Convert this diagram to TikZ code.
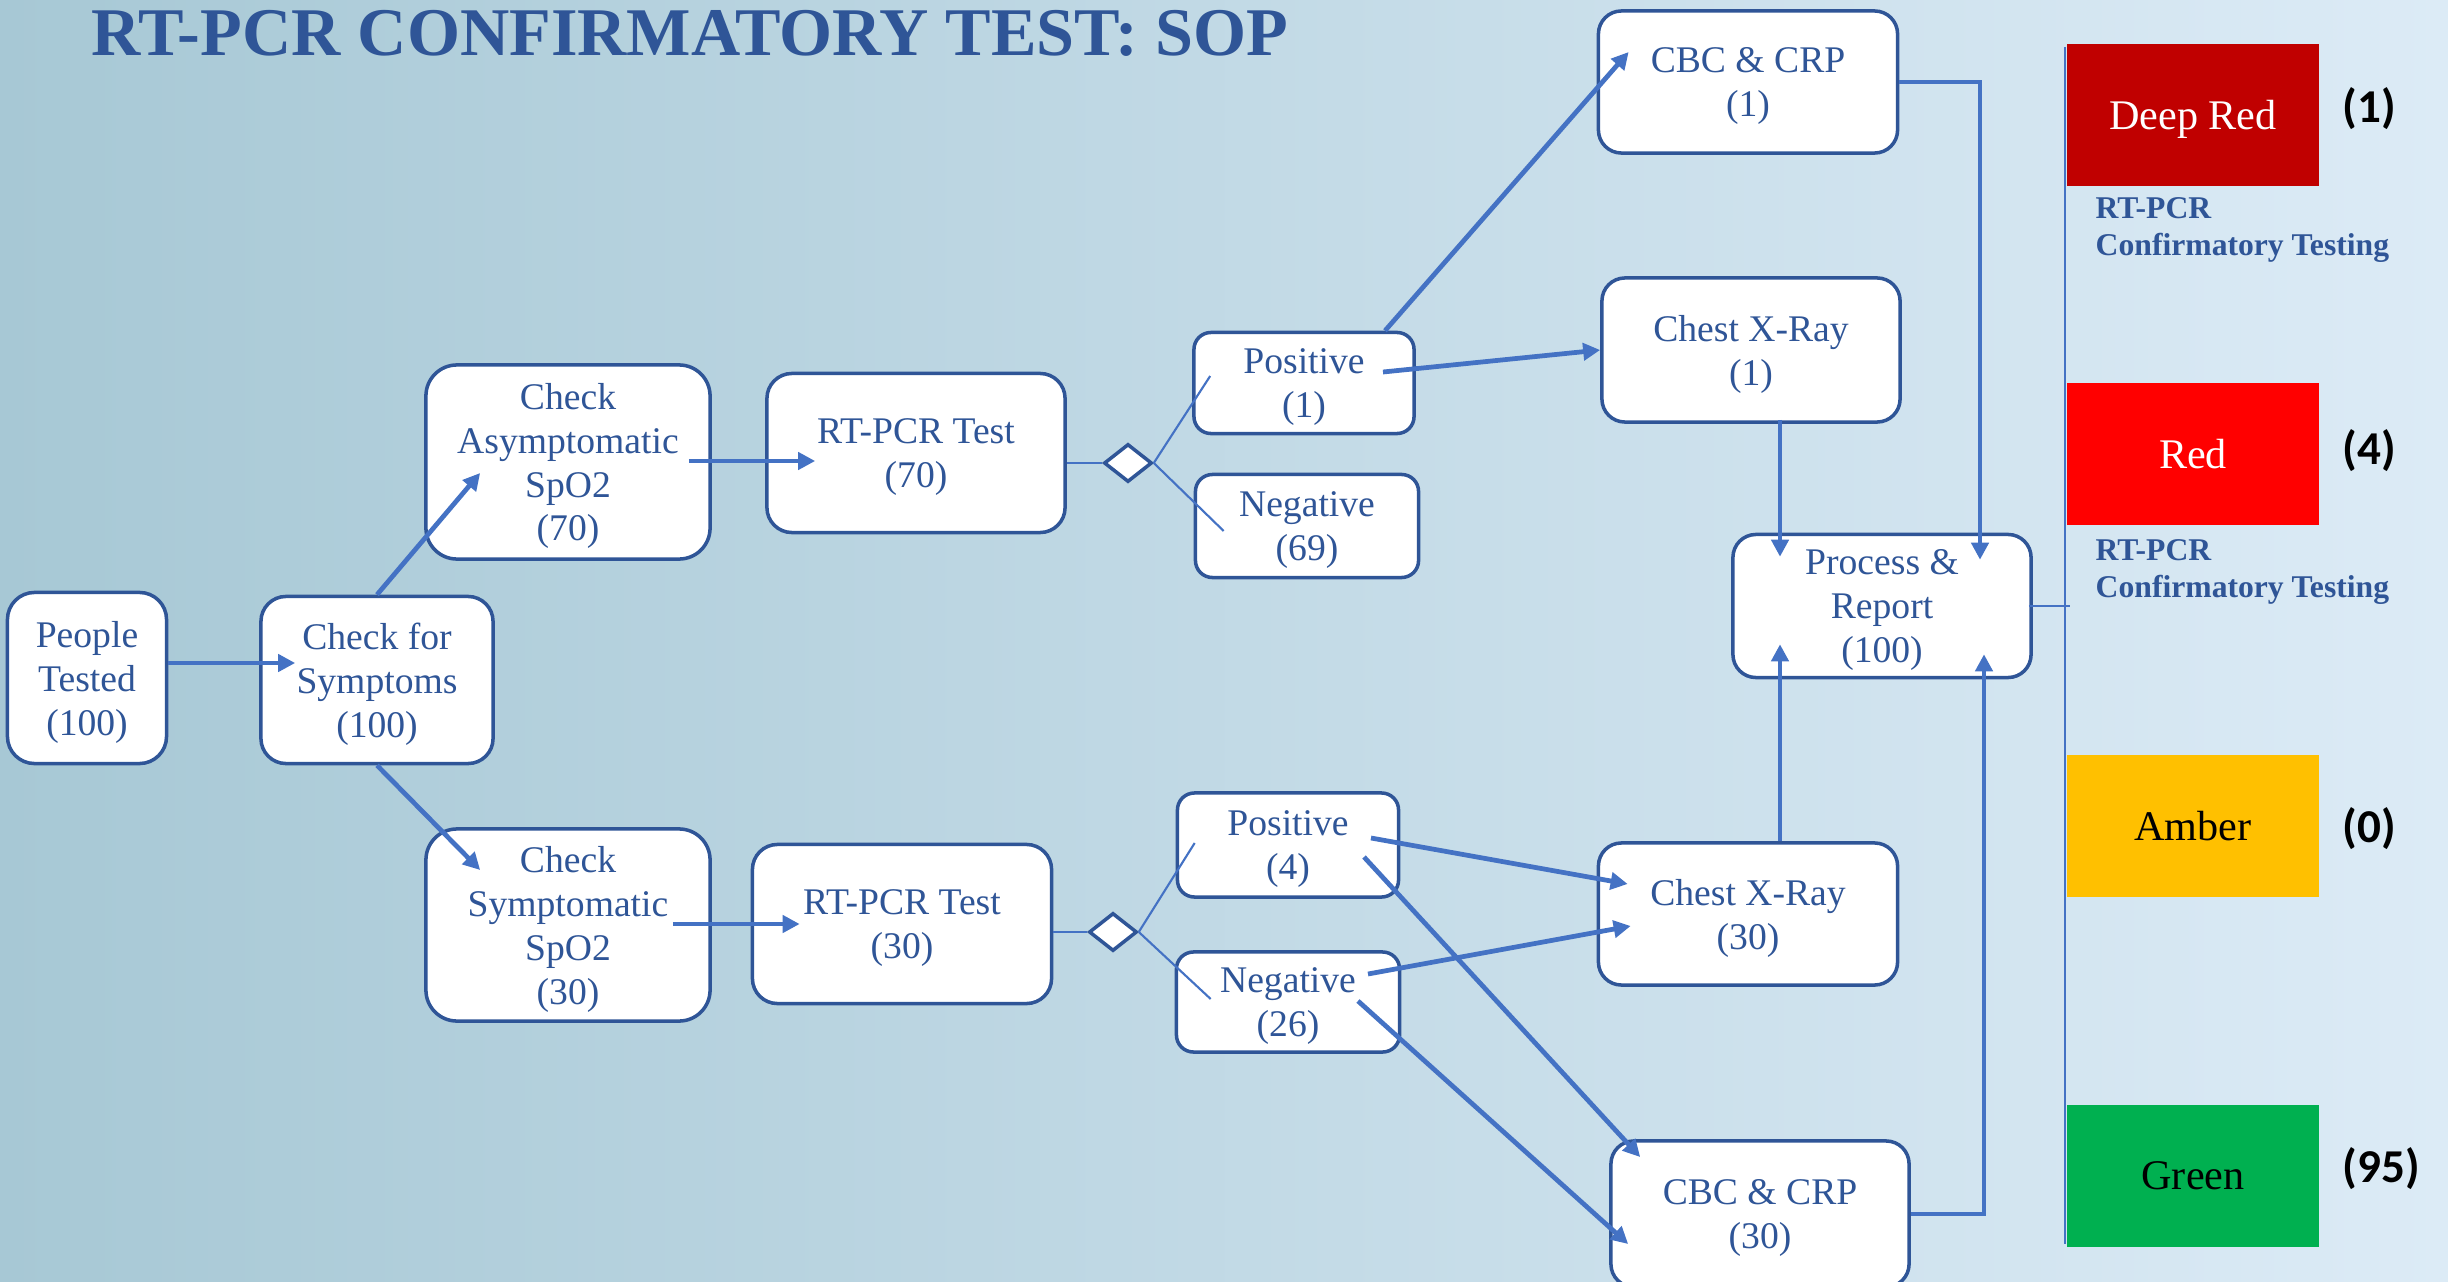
\documentclass[tikz,border=0pt]{standalone}
\usepackage{fontspec}
\setmainfont{Liberation Serif}
\newfontfamily\numfont{Carlito}
\usepackage{tikz}
\usetikzlibrary{arrows.meta,positioning,shapes.geometric,calc}
\definecolor{boxblue}  {RGB}{47,85,151}
\definecolor{lineblue} {RGB}{68,114,196}
\definecolor{bgleft}   {RGB}{167,200,213}
\definecolor{bgright}  {RGB}{220,235,246}
\definecolor{deepred}  {RGB}{192,0,0}
\definecolor{flagred}  {RGB}{255,0,0}
\definecolor{amber}    {RGB}{255,192,0}
\definecolor{flaggreen}{RGB}{0,176,80}
\tikzset{
  stepbox/.style={draw=boxblue, line width=1pt, fill=white,
                  rounded corners=#1, align=center, text=boxblue,
                  inner sep=0pt, text depth=-2.6pt,
                  font=\fontsize{10.7}{12.5}\selectfont},
  stepbox/.default=0.25cm,
  resbox/.style ={stepbox=0.17cm},
  gate/.style   ={diamond, draw=boxblue, line width=1pt, fill=white,
                  inner sep=0pt, minimum width=0.48cm, minimum height=0.38cm},
  flag/.style   ={fill=#1, minimum width=2.51cm, minimum height=1.41cm,
                  inner sep=0pt, text depth=0pt,
                  font=\fontsize{12}{14}\selectfont},
  count/.style  ={anchor=west, inner sep=0pt,
                  font=\numfont\bfseries\fontsize{13.4}{15}\selectfont},
  note/.style   ={anchor=west, align=left, inner sep=0pt, text=boxblue,
                  font=\bfseries\fontsize{9}{10.5}\selectfont},
  arr/.style    ={-{Triangle[length=0.17cm,width=0.17cm]}, lineblue,
                  line width=1.35pt},
  tline/.style  ={lineblue, line width=0.6pt},
}

\begin{document}
\begin{tikzpicture}[x=0.01cm, y=-0.01cm]
  \useasboundingbox (0,0) rectangle (2448,1282);
  \clip (0,0) rectangle (2448,1282);
  \shade[left color=bgleft, right color=bgright] (0,0) rectangle (2448,1282);

  \node[anchor=base west, inner sep=0pt, text=boxblue,
        font=\bfseries\fontsize{19.4}{22}\selectfont] (title) at (91,56)
        {RT-PCR CONFIRMATORY TEST: SOP};

  % flow boxes
  \node[stepbox=0.27cm, minimum width=1.59cm, minimum height=1.71cm] (pt) at (87,678) {People\\Tested\\(100)};
  \node[stepbox, minimum width=2.32cm, minimum height=1.67cm] (cfs) at (377,680) {Check for\\Symptoms\\(100)};
  \node[stepbox=0.31cm, minimum width=2.84cm, minimum height=1.94cm] (asym) at (568,462) {Check\\Asymptomatic\\SpO2\\(70)};
  \node[stepbox=0.31cm, minimum width=2.84cm, minimum height=1.92cm] (sym) at (568,925) {Check\\Symptomatic\\SpO2\\(30)};
  \node[stepbox, minimum width=2.98cm, minimum height=1.59cm] (rt70) at (916,453) {RT-PCR Test\\(70)};
  \node[stepbox, minimum width=2.99cm, minimum height=1.59cm] (rt30) at (902,924) {RT-PCR Test\\(30)};
  \node[gate] (d1) at (1128,463) {};
  \node[gate] (d2) at (1113,932) {};
  \node[resbox, minimum width=2.20cm, minimum height=1.01cm] (pos1) at (1304,383) {Positive\\(1)};
  \node[resbox, minimum width=2.23cm, minimum height=1.03cm] (neg69) at (1307,526) {Negative\\(69)};
  \node[resbox, minimum width=2.21cm, minimum height=1.04cm] (pos4) at (1288,845) {Positive\\(4)};
  \node[resbox, minimum width=2.23cm, minimum height=1.00cm] (neg26) at (1288,1002) {Negative\\(26)};
  \node[stepbox=0.23cm, minimum width=2.99cm, minimum height=1.42cm] (cbc1) at (1748,82) {CBC \& CRP\\(1)};
  \node[stepbox=0.23cm, minimum width=2.98cm, minimum height=1.44cm] (cxr1) at (1751,350) {Chest X-Ray\\(1)};
  \node[stepbox=0.23cm, minimum width=2.98cm, minimum height=1.43cm] (pr) at (1882,606) {Process \&\\Report\\(100)};
  \node[stepbox=0.23cm, minimum width=2.99cm, minimum height=1.42cm] (cxr30) at (1748,914) {Chest X-Ray\\(30)};
  \node[stepbox=0.23cm, minimum width=2.98cm, minimum height=1.46cm] (cbc30) at (1760,1214) {CBC \& CRP\\(30)};

  % connectors
  \draw[arr] ($(pt.east)+(0,-15)$) -- ($(cfs.west)+(36,-17)$);
  \draw[arr] (cfs.north) -- ($(asym.west)+(56,11)$);
  \draw[arr] (cfs.south) -- ($(sym.west)+(56,-55)$);
  \draw[arr] ($(asym.east)+(-23,-1)$) -- ($(rt70.west)+(50,8)$);
  \draw[arr] ($(sym.east)+(-39,-1)$) -- ($(rt30.west)+(49,0)$);
  \draw[tline] (rt70.east |- d1.west) -- (d1.west);
  \draw[tline] (rt30.east |- d2.west) -- (d2.west);
  \draw[tline] (d1.east) -- ($(pos1.west)+(18,-7)$);
  \draw[tline] (d1.east) -- ($(neg69.west)+(30,5)$);
  \draw[tline] (d2.east) -- ($(pos4.west)+(19,-2)$);
  \draw[tline] (d2.east) -- ($(neg26.west)+(36,-3)$);
  \draw[arr] ($(pos1.north)+(81,0)$) -- ($(cbc1.west)+(32,-30)$);
  \draw[arr] ($(pos1.center)+(79,-11)$) -- (cxr1.west);
  \draw[arr] ($(pos4.center)+(83,-7)$) -- ($(cxr30.west)+(31,-30)$);
  \draw[arr] ($(pos4.center)+(76,12)$) -- ($(cbc30.west)+(31,-57)$);
  \draw[arr] ($(neg26.center)+(80,-28)$) -- ($(cxr30.west)+(34,12)$);
  \draw[arr] ($(neg26.center)+(70,-1)$) -- ($(cbc30.west)+(19,30)$);
  \draw[arr] (cbc1.east) -| ($(pr.north)+(98,27)$);
  \draw[arr] ($(cxr1.south)+(29,-4)$) -- ($(pr.north)+(-102,24)$);
  \draw[arr] ($(cxr30.north)+(32,0)$) -- ($(pr.south)+(-102,-35)$);
  \draw[arr] (cbc30.east) -| ($(pr.south)+(102,-25)$);

  % colour key
  \coordinate (ltop) at (2065,47);
  \coordinate (lbot) at (2065,1244);
  \draw[lineblue, line width=0.7pt] (ltop) -- (lbot);
  \draw[lineblue, line width=0.7pt] ($(pr.east)+(-4,0)$) -- ($(pr.east -| ltop)+(5,0)$);
  \node[flag=deepred, text=white] (deep) at (2193,115) {Deep Red};
  \node[flag=flagred, text=white] (red) at (2193,454) {Red};
  \node[flag=amber, text=black] (amb) at (2193,826) {Amber};
  \node[flag=flaggreen, text=black] (grn) at (2193,1176) {Green};
  \node[count] (n1) at (2342,109) {(1)};
  \node[count] (n4) at (2342,451) {(4)};
  \node[count] (n0) at (2342,829) {(0)};
  \node[count] (n95) at (2342,1169) {(95)};
  \node[note] (t1) at (2095,230) {RT-PCR\\Confirmatory Testing};
  \node[note] (t2) at (2095,572) {RT-PCR\\Confirmatory Testing};
\end{tikzpicture}
\end{document}
